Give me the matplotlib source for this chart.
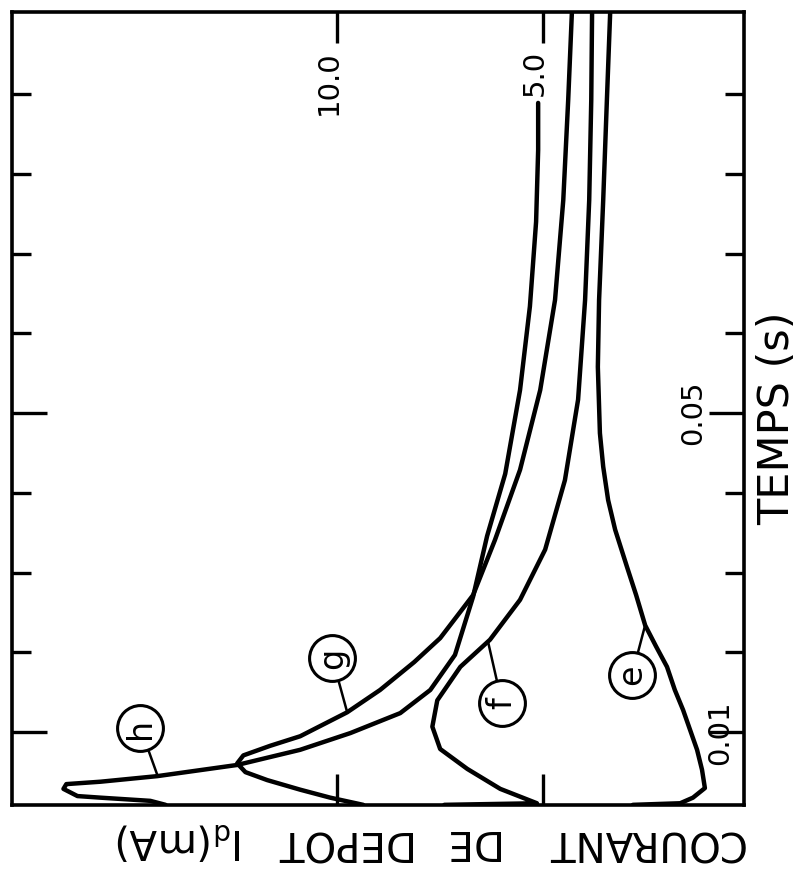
import matplotlib
matplotlib.use("Agg")
import matplotlib.pyplot as plt

# ---------------- data (time in s, current in mA) ----------------
h_t = [0.0009, 0.0014, 0.0018, 0.0020, 0.0029, 0.0035, 0.0038, 0.0045, 0.0059,
       0.0078, 0.0099, 0.0124, 0.0153, 0.0197, 0.0270, 0.0346, 0.0424, 0.0529,
       0.0634, 0.0740, 0.0830, 0.0889]
h_I = [14.17, 14.54, 15.75, 16.31, 16.65, 16.58, 15.75, 14.37, 12.43,
       10.90, 9.68, 8.47, 7.74, 7.14, 6.70, 6.36, 5.92, 5.56,
       5.32, 5.17, 5.12, 5.12]

g_t = [0.0009, 0.0018, 0.0028, 0.0040, 0.0050, 0.0061, 0.0071, 0.0083, 0.0095,
       0.0125, 0.0153, 0.0188, 0.0218, 0.0251, 0.0272, 0.0341, 0.0429, 0.0529,
       0.0642, 0.0767, 0.0893, 0.1003]
g_I = [9.37, 10.17, 10.90, 11.70, 12.23, 12.43, 12.28, 11.63, 10.90,
       9.76, 8.96, 8.13, 7.50, 7.01, 6.70, 6.17, 5.56, 5.07,
       4.71, 4.51, 4.39, 4.30]

f_t = [0.0009, 0.0011, 0.0029, 0.0054, 0.0079, 0.0107, 0.0140, 0.0182, 0.0216,
       0.0266, 0.0329, 0.0416, 0.0517, 0.0642, 0.0767, 0.0893, 0.1003]
f_I = [7.40, 5.15, 6.04, 6.84, 7.50, 7.69, 7.57, 7.01, 6.29,
       5.56, 4.95, 4.47, 4.15, 3.98, 3.88, 3.83, 3.81]

e_t = [0.0009, 0.0011, 0.0018, 0.0030, 0.0053, 0.0078, 0.0103, 0.0128, 0.0153,
       0.0182, 0.0208, 0.0234, 0.0272, 0.0307, 0.0354, 0.0391, 0.0433, 0.0475,
       0.0558, 0.0642, 0.0767, 0.0893, 0.1003]
e_I = [2.82, 1.67, 1.36, 1.07, 1.14, 1.26, 1.43, 1.60, 1.80,
       1.99, 2.26, 2.52, 2.74, 2.96, 3.25, 3.42, 3.54, 3.62,
       3.67, 3.64, 3.54, 3.45, 3.37]

curve_names = ["h", "g", "f", "e"]
# label circle centres and leader attachment points (current mA, time s)
label_I = [14.78, 10.12, 6.00, 2.84]
label_t = [0.01053, 0.01931, 0.01367, 0.01718]
attach_I = [14.37, 9.76, 6.33, 2.52]
attach_t = [0.00464, 0.01254, 0.02119, 0.02345]

current_ticks = [5.0, 10.0]
current_tick_labels = ["5.0", "10.0"]
time_major = [0.01, 0.05]
time_major_labels = ["0.01", "0.05"]
time_minor = [0.02, 0.03, 0.04, 0.06, 0.07, 0.08, 0.09]

xlabel = "TEMPS (s)"
ylabel_words = ["COURANT", "DE", "DEPOT", "I$_{\\mathregular{d}}$(mA)"]
ylabel_word_start = [0.12, 6.12, 8.25, 12.26]   # right-hand end of each word (mA)

# ---------------- figure ----------------
W, H = 803, 877
fig = plt.figure(figsize=(W / 100, H / 100), dpi=100)
ax = fig.add_axes([12 / W, 1 - 805 / H, (744 - 12) / W, (805 - 12) / H])

ax.set_xlim(17.9, 0.12)       # current increases to the left
ax.set_ylim(0.00088, 0.1003)  # time increases upward

lw = 3.2
for I, t in [(h_I, h_t), (g_I, g_t), (f_I, f_t), (e_I, e_t)]:
    ax.plot(I, t, color="black", lw=lw, solid_joinstyle="round",
            solid_capstyle="round", zorder=3)

# labels with circles and leaders
for name, li, lt, ai, at in zip(curve_names, label_I, label_t, attach_I, attach_t):
    ax.plot([li, ai], [lt, at], color="black", lw=1.8, zorder=4)
    ax.plot([li], [lt], marker="o", ms=33, mfc="white", mec="black",
            mew=2.2, zorder=5)
    ax.text(li, lt, name, rotation=90, ha="center", va="center",
            rotation_mode="anchor", fontsize=24, zorder=6)

# spines and ticks
for s in ax.spines.values():
    s.set_linewidth(2.6)
ax.set_xticks(current_ticks)
ax.set_yticks(time_major)
ax.set_yticks(time_minor, minor=True)
ax.tick_params(axis="x", which="major", direction="in", top=True, bottom=True,
               length=22, width=2.4, labelbottom=False, labeltop=False)
ax.tick_params(axis="y", which="major", direction="in", left=True, right=True,
               length=25, width=2.4, labelleft=False, labelright=False)
ax.tick_params(axis="y", which="minor", direction="in", left=True, right=True,
               length=14, width=2.4)

# tick labels placed inside the frame as in the original
for v, lab in zip(current_ticks, current_tick_labels):
    ax.text(v, 0.0955, lab, rotation=90, rotation_mode="anchor",
            ha="right", va="baseline", fontsize=21)
for v, lab in zip(time_major, time_major_labels):
    ax.text(1.15 if v == 0.05 else 0.5, v, lab, rotation=90,
            rotation_mode="anchor", ha="center", va="baseline", fontsize=21)

# axis titles (rotated figure)
ax.text(-0.97, 0.0494, xlabel, rotation=90, rotation_mode="anchor",
        ha="center", va="baseline", fontsize=31, clip_on=False)
for word, x0 in zip(ylabel_words, ylabel_word_start):
    ax.text(x0, -0.00226, word, rotation=180, rotation_mode="anchor",
            ha="left", va="baseline", fontsize=29, clip_on=False)

fig.savefig("out.png", dpi=100, facecolor="white")
